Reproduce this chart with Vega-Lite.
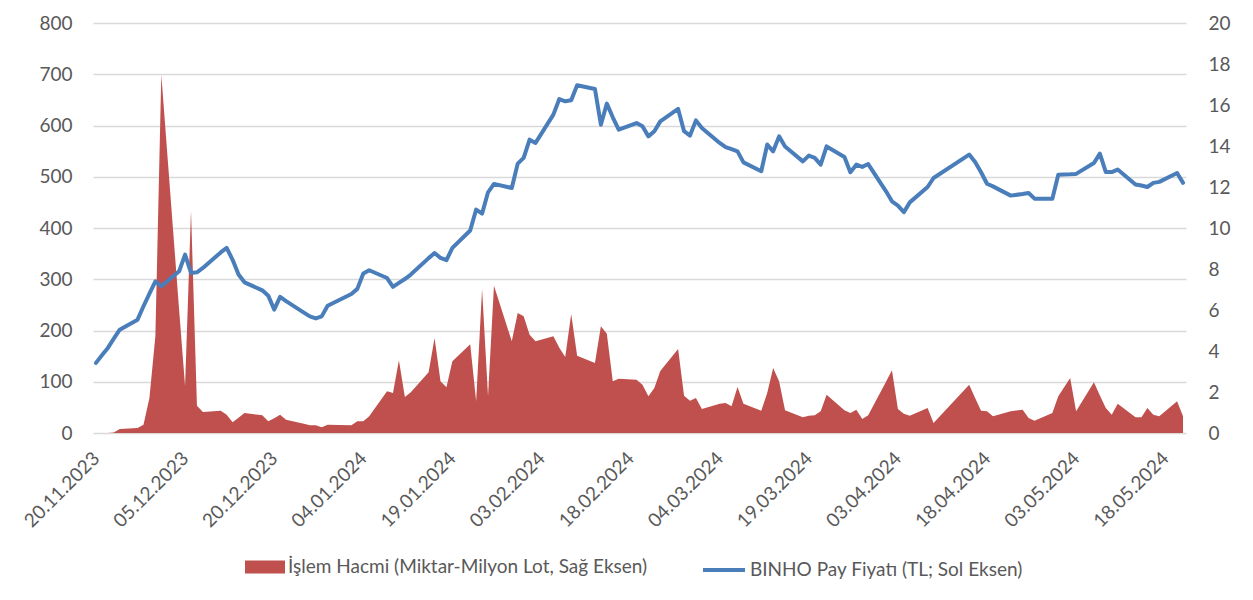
{
  "$schema": "https://vega.github.io/schema/vega-lite/v6.json",
  "width": 1093,
  "height": 410,
  "autosize": {"type": "none"},
  "padding": {"left": 93, "top": 23, "right": 67, "bottom": 167},
  "background": "white",
  "config": {
    "view": {"stroke": null},
    "font": "Lato",
    "axis": {"labelFont": "Lato", "labelFontSize": 19, "labelColor": "#595959"},
    "legend": {"labelFont": "Lato", "labelFontSize": 19, "labelColor": "#595959", "padding": 0, "labelLimit": 600}
  },
  "datasets": {
    "price": [
      {"date": "2023-11-20", "price": 3.42}, {"date": "2023-11-21", "price": 3.79}, {"date": "2023-11-22", "price": 4.15}, {"date": "2023-11-23", "price": 4.60}, {"date": "2023-11-24", "price": 5.04},
      {"date": "2023-11-27", "price": 5.53}, {"date": "2023-11-28", "price": 6.18}, {"date": "2023-11-29", "price": 6.80}, {"date": "2023-11-30", "price": 7.40}, {"date": "2023-12-01", "price": 7.16},
      {"date": "2023-12-04", "price": 7.89}, {"date": "2023-12-05", "price": 8.70}, {"date": "2023-12-06", "price": 7.81}, {"date": "2023-12-07", "price": 7.84}, {"date": "2023-12-08", "price": 8.05},
      {"date": "2023-12-11", "price": 8.81}, {"date": "2023-12-12", "price": 9.03}, {"date": "2023-12-13", "price": 8.45}, {"date": "2023-12-14", "price": 7.73}, {"date": "2023-12-15", "price": 7.35},
      {"date": "2023-12-18", "price": 6.96}, {"date": "2023-12-19", "price": 6.70}, {"date": "2023-12-20", "price": 6.02}, {"date": "2023-12-21", "price": 6.64}, {"date": "2023-12-22", "price": 6.43},
      {"date": "2023-12-25", "price": 5.87}, {"date": "2023-12-26", "price": 5.69}, {"date": "2023-12-27", "price": 5.59}, {"date": "2023-12-28", "price": 5.69}, {"date": "2023-12-29", "price": 6.21},
      {"date": "2024-01-02", "price": 6.78}, {"date": "2024-01-03", "price": 7.03}, {"date": "2024-01-04", "price": 7.78}, {"date": "2024-01-05", "price": 7.94},
      {"date": "2024-01-08", "price": 7.56}, {"date": "2024-01-09", "price": 7.13}, {"date": "2024-01-10", "price": 7.32}, {"date": "2024-01-11", "price": 7.51}, {"date": "2024-01-12", "price": 7.73},
      {"date": "2024-01-15", "price": 8.53}, {"date": "2024-01-16", "price": 8.78}, {"date": "2024-01-17", "price": 8.54}, {"date": "2024-01-18", "price": 8.43}, {"date": "2024-01-19", "price": 9.03},
      {"date": "2024-01-22", "price": 9.88}, {"date": "2024-01-23", "price": 10.90}, {"date": "2024-01-24", "price": 10.70}, {"date": "2024-01-25", "price": 11.74}, {"date": "2024-01-26", "price": 12.15},
      {"date": "2024-01-29", "price": 11.95}, {"date": "2024-01-30", "price": 13.14}, {"date": "2024-01-31", "price": 13.42}, {"date": "2024-02-01", "price": 14.31}, {"date": "2024-02-02", "price": 14.15},
      {"date": "2024-02-05", "price": 15.53}, {"date": "2024-02-06", "price": 16.29}, {"date": "2024-02-07", "price": 16.18}, {"date": "2024-02-08", "price": 16.23}, {"date": "2024-02-09", "price": 16.96},
      {"date": "2024-02-12", "price": 16.78}, {"date": "2024-02-13", "price": 15.04}, {"date": "2024-02-14", "price": 16.07}, {"date": "2024-02-15", "price": 15.40}, {"date": "2024-02-16", "price": 14.80},
      {"date": "2024-02-19", "price": 15.12}, {"date": "2024-02-20", "price": 14.96}, {"date": "2024-02-21", "price": 14.47}, {"date": "2024-02-22", "price": 14.72}, {"date": "2024-02-23", "price": 15.20},
      {"date": "2024-02-26", "price": 15.81}, {"date": "2024-02-27", "price": 14.72}, {"date": "2024-02-28", "price": 14.51}, {"date": "2024-02-29", "price": 15.25}, {"date": "2024-03-01", "price": 14.88},
      {"date": "2024-03-04", "price": 14.15}, {"date": "2024-03-05", "price": 13.95}, {"date": "2024-03-06", "price": 13.85}, {"date": "2024-03-07", "price": 13.74}, {"date": "2024-03-08", "price": 13.20},
      {"date": "2024-03-11", "price": 12.77}, {"date": "2024-03-12", "price": 14.07}, {"date": "2024-03-13", "price": 13.74}, {"date": "2024-03-14", "price": 14.47}, {"date": "2024-03-15", "price": 13.98},
      {"date": "2024-03-18", "price": 13.25}, {"date": "2024-03-19", "price": 13.53}, {"date": "2024-03-20", "price": 13.42}, {"date": "2024-03-21", "price": 13.09}, {"date": "2024-03-22", "price": 13.98},
      {"date": "2024-03-25", "price": 13.46}, {"date": "2024-03-26", "price": 12.72}, {"date": "2024-03-27", "price": 13.09}, {"date": "2024-03-28", "price": 12.98}, {"date": "2024-03-29", "price": 13.12},
      {"date": "2024-04-01", "price": 11.79}, {"date": "2024-04-02", "price": 11.30}, {"date": "2024-04-03", "price": 11.09}, {"date": "2024-04-04", "price": 10.77}, {"date": "2024-04-05", "price": 11.25},
      {"date": "2024-04-08", "price": 12.00}, {"date": "2024-04-09", "price": 12.44},
      {"date": "2024-04-15", "price": 13.58}, {"date": "2024-04-16", "price": 13.22}, {"date": "2024-04-17", "price": 12.72}, {"date": "2024-04-18", "price": 12.16}, {"date": "2024-04-19", "price": 12.03},
      {"date": "2024-04-22", "price": 11.58}, {"date": "2024-04-24", "price": 11.66}, {"date": "2024-04-25", "price": 11.71}, {"date": "2024-04-26", "price": 11.43},
      {"date": "2024-04-29", "price": 11.43}, {"date": "2024-04-30", "price": 12.60}, {"date": "2024-05-02", "price": 12.62}, {"date": "2024-05-03", "price": 12.64},
      {"date": "2024-05-06", "price": 13.17}, {"date": "2024-05-07", "price": 13.63}, {"date": "2024-05-08", "price": 12.73}, {"date": "2024-05-09", "price": 12.73}, {"date": "2024-05-10", "price": 12.85},
      {"date": "2024-05-13", "price": 12.12}, {"date": "2024-05-14", "price": 12.07}, {"date": "2024-05-15", "price": 12.00}, {"date": "2024-05-16", "price": 12.20}, {"date": "2024-05-17", "price": 12.25},
      {"date": "2024-05-20", "price": 12.68}, {"date": "2024-05-21", "price": 12.20}
    ],
    "volume": [
      {"date": "2023-11-20", "volume": 0}, {"date": "2023-11-21", "volume": 0}, {"date": "2023-11-22", "volume": 0}, {"date": "2023-11-23", "volume": 1}, {"date": "2023-11-24", "volume": 7.8},
      {"date": "2023-11-27", "volume": 9.8}, {"date": "2023-11-28", "volume": 16.3}, {"date": "2023-11-29", "volume": 68.3}, {"date": "2023-11-30", "volume": 188.6}, {"date": "2023-12-01", "volume": 699},
      {"date": "2023-12-04", "volume": 240}, {"date": "2023-12-05", "volume": 91}, {"date": "2023-12-06", "volume": 434}, {"date": "2023-12-07", "volume": 53}, {"date": "2023-12-08", "volume": 41},
      {"date": "2023-12-11", "volume": 43.6}, {"date": "2023-12-12", "volume": 35.8}, {"date": "2023-12-13", "volume": 20.8}, {"date": "2023-12-14", "volume": 30}, {"date": "2023-12-15", "volume": 39},
      {"date": "2023-12-18", "volume": 34.5}, {"date": "2023-12-19", "volume": 22.8}, {"date": "2023-12-20", "volume": 29}, {"date": "2023-12-21", "volume": 35.8}, {"date": "2023-12-22", "volume": 26},
      {"date": "2023-12-25", "volume": 18.2}, {"date": "2023-12-26", "volume": 15}, {"date": "2023-12-27", "volume": 15}, {"date": "2023-12-28", "volume": 11}, {"date": "2023-12-29", "volume": 16.3},
      {"date": "2024-01-02", "volume": 15}, {"date": "2024-01-03", "volume": 22.8}, {"date": "2024-01-04", "volume": 22.8}, {"date": "2024-01-05", "volume": 32.5},
      {"date": "2024-01-08", "volume": 81.3}, {"date": "2024-01-09", "volume": 78}, {"date": "2024-01-10", "volume": 141.8}, {"date": "2024-01-11", "volume": 70.2}, {"date": "2024-01-12", "volume": 79.3},
      {"date": "2024-01-15", "volume": 118.4}, {"date": "2024-01-16", "volume": 185.4}, {"date": "2024-01-17", "volume": 100.8}, {"date": "2024-01-18", "volume": 89.1}, {"date": "2024-01-19", "volume": 139.8},
      {"date": "2024-01-22", "volume": 173}, {"date": "2024-01-23", "volume": 61.8}, {"date": "2024-01-24", "volume": 281}, {"date": "2024-01-25", "volume": 71.5}, {"date": "2024-01-26", "volume": 287.5},
      {"date": "2024-01-29", "volume": 178.9}, {"date": "2024-01-30", "volume": 234.1}, {"date": "2024-01-31", "volume": 227.6}, {"date": "2024-02-01", "volume": 191.9}, {"date": "2024-02-02", "volume": 178.9},
      {"date": "2024-02-05", "volume": 188.6}, {"date": "2024-02-06", "volume": 166.5}, {"date": "2024-02-07", "volume": 148.3}, {"date": "2024-02-08", "volume": 232.2}, {"date": "2024-02-09", "volume": 150.9},
      {"date": "2024-02-12", "volume": 136.6}, {"date": "2024-02-13", "volume": 208.1}, {"date": "2024-02-14", "volume": 193.8}, {"date": "2024-02-15", "volume": 100.8}, {"date": "2024-02-16", "volume": 106},
      {"date": "2024-02-19", "volume": 104}, {"date": "2024-02-20", "volume": 94.3}, {"date": "2024-02-21", "volume": 71.5}, {"date": "2024-02-22", "volume": 87.8}, {"date": "2024-02-23", "volume": 121},
      {"date": "2024-02-26", "volume": 163.9}, {"date": "2024-02-27", "volume": 72.8}, {"date": "2024-02-28", "volume": 63.1}, {"date": "2024-02-29", "volume": 68.3}, {"date": "2024-03-01", "volume": 46.8},
      {"date": "2024-03-04", "volume": 57.2}, {"date": "2024-03-05", "volume": 58.5}, {"date": "2024-03-06", "volume": 52}, {"date": "2024-03-07", "volume": 89.8}, {"date": "2024-03-08", "volume": 57.2},
      {"date": "2024-03-11", "volume": 43.6}, {"date": "2024-03-12", "volume": 78}, {"date": "2024-03-13", "volume": 126.8}, {"date": "2024-03-14", "volume": 100.8}, {"date": "2024-03-15", "volume": 44.2},
      {"date": "2024-03-18", "volume": 30.6}, {"date": "2024-03-19", "volume": 33.8}, {"date": "2024-03-20", "volume": 34.5}, {"date": "2024-03-21", "volume": 42.3}, {"date": "2024-03-22", "volume": 74.8},
      {"date": "2024-03-25", "volume": 44.2}, {"date": "2024-03-26", "volume": 39}, {"date": "2024-03-27", "volume": 45.5}, {"date": "2024-03-28", "volume": 27.3}, {"date": "2024-03-29", "volume": 34.5},
      {"date": "2024-04-01", "volume": 100}, {"date": "2024-04-02", "volume": 122.3}, {"date": "2024-04-03", "volume": 46.8}, {"date": "2024-04-04", "volume": 37.7}, {"date": "2024-04-05", "volume": 33.8},
      {"date": "2024-04-08", "volume": 48.8}, {"date": "2024-04-09", "volume": 19.5},
      {"date": "2024-04-15", "volume": 94.3}, {"date": "2024-04-16", "volume": 68.3}, {"date": "2024-04-17", "volume": 43.6}, {"date": "2024-04-18", "volume": 42.3}, {"date": "2024-04-19", "volume": 32.5},
      {"date": "2024-04-22", "volume": 42.3}, {"date": "2024-04-24", "volume": 45.5}, {"date": "2024-04-25", "volume": 29.3}, {"date": "2024-04-26", "volume": 23.7},
      {"date": "2024-04-29", "volume": 39}, {"date": "2024-04-30", "volume": 71.5}, {"date": "2024-05-02", "volume": 107.3}, {"date": "2024-05-03", "volume": 42.3},
      {"date": "2024-05-06", "volume": 98.9}, {"date": "2024-05-07", "volume": 73}, {"date": "2024-05-08", "volume": 48.8}, {"date": "2024-05-09", "volume": 35.8}, {"date": "2024-05-10", "volume": 57.2},
      {"date": "2024-05-13", "volume": 30.6}, {"date": "2024-05-14", "volume": 30.6}, {"date": "2024-05-15", "volume": 48.8}, {"date": "2024-05-16", "volume": 35.8}, {"date": "2024-05-17", "volume": 32.5},
      {"date": "2024-05-20", "volume": 61.8}, {"date": "2024-05-21", "volume": 32.5}
    ]
  },
  "encoding": {
    "x": {
      "field": "date",
      "type": "temporal",
      "scale": {
        "type": "utc",
        "domain": [
          {"year": 2023, "month": 11, "date": 19, "hours": 12, "utc": true},
          {"year": 2024, "month": 5, "date": 21, "hours": 12, "utc": true}
        ]
      },
      "axis": {
        "title": null,
        "values": [
          {"year": 2023, "month": 11, "date": 20, "utc": true},
          {"year": 2023, "month": 12, "date": 5, "utc": true},
          {"year": 2023, "month": 12, "date": 20, "utc": true},
          {"year": 2024, "month": 1, "date": 4, "utc": true},
          {"year": 2024, "month": 1, "date": 19, "utc": true},
          {"year": 2024, "month": 2, "date": 3, "utc": true},
          {"year": 2024, "month": 2, "date": 18, "utc": true},
          {"year": 2024, "month": 3, "date": 4, "utc": true},
          {"year": 2024, "month": 3, "date": 19, "utc": true},
          {"year": 2024, "month": 4, "date": 3, "utc": true},
          {"year": 2024, "month": 4, "date": 18, "utc": true},
          {"year": 2024, "month": 5, "date": 3, "utc": true},
          {"year": 2024, "month": 5, "date": 18, "utc": true}
        ],
        "format": "%d.%m.%Y",
        "labelAngle": -45,
        "labelAlign": "right",
        "labelBaseline": "middle",
        "labelPadding": 22,
        "labelFlush": false,
        "labelOverlap": false,
        "grid": false,
        "domain": false,
        "ticks": false
      }
    }
  },
  "layer": [
    {
      "data": {"name": "volume"},
      "mark": {"type": "area", "opacity": 1, "interpolate": "linear"},
      "encoding": {
        "y": {
          "field": "volume",
          "type": "quantitative",
          "stack": null,
          "scale": {"domain": [0, 800], "nice": false},
          "axis": {
            "orient": "left",
            "title": null,
            "values": [0, 100, 200, 300, 400, 500, 600, 700, 800],
            "grid": true,
            "gridColor": "#d9d9d9",
            "gridWidth": 1.3,
            "domain": false,
            "ticks": false,
            "labelPadding": 21
          }
        },
        "fill": {
          "datum": "İşlem Hacmi (Miktar-Milyon Lot, Sağ Eksen)",
          "scale": {"range": ["#C0504D"]},
          "legend": {
            "title": null,
            "orient": "none",
            "legendX": 152,
            "legendY": 524,
            "symbolType": "M-1,-0.33H1V0.33H-1Z",
            "symbolSize": 1600,
            "symbolStrokeWidth": 0,
            "labelOffset": 3
          }
        }
      }
    },
    {
      "data": {"name": "price"},
      "mark": {"type": "line", "strokeWidth": 4, "strokeJoin": "round", "strokeCap": "round"},
      "encoding": {
        "y": {
          "field": "price",
          "type": "quantitative",
          "scale": {"domain": [0, 20], "nice": false},
          "axis": {
            "orient": "right",
            "title": null,
            "values": [0, 2, 4, 6, 8, 10, 12, 14, 16, 18, 20],
            "grid": false,
            "domain": false,
            "ticks": false,
            "labelPadding": 22
          }
        },
        "stroke": {
          "datum": "BINHO Pay Fiyatı (TL; Sol Eksen)",
          "scale": {"range": ["#4A7EBB"]},
          "legend": {
            "title": null,
            "orient": "none",
            "legendX": 608,
            "legendY": 524,
            "symbolType": "stroke",
            "symbolSize": 1764,
            "symbolStrokeWidth": 4,
            "labelOffset": 3
          }
        }
      }
    }
  ],
  "resolve": {"scale": {"y": "independent"}}
}
